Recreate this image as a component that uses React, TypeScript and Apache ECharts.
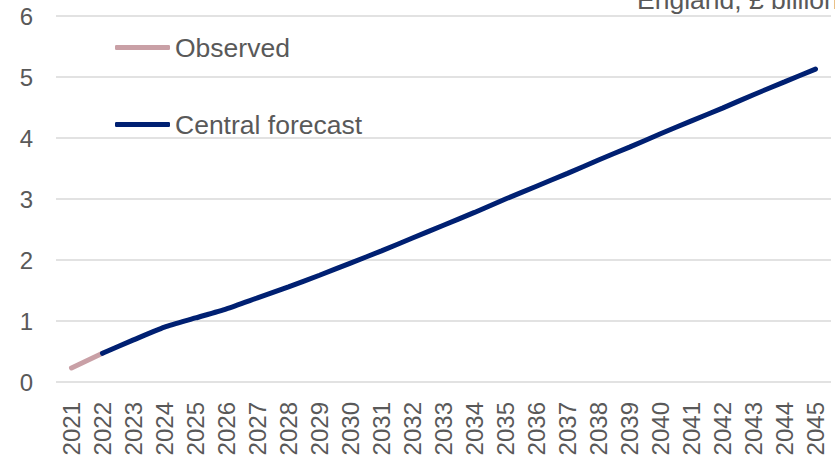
import React, { useEffect, useRef } from "react";
import * as echarts from "echarts";

const years = ["2021","2022","2023","2024","2025","2026","2027","2028","2029","2030","2031","2032","2033","2034","2035","2036","2037","2038","2039","2040","2041","2042","2043","2044","2045"];
const observed: (number | null)[] = [0.23, 0.47, null, null, null, null, null, null, null, null, null, null, null, null, null, null, null, null, null, null, null, null, null, null, null];
const centralForecast: (number | null)[] = [null, 0.47, 0.69, 0.9, 1.05, 1.2, 1.38, 1.56, 1.75, 1.95, 2.15, 2.36, 2.57, 2.78, 3.0, 3.21, 3.42, 3.64, 3.85, 4.07, 4.28, 4.49, 4.71, 4.92, 5.13];
const yTicks = { min: 0, max: 6, interval: 1 };
const unitLabel = "England, £ billion";

const FONT = "'Liberation Sans', Arial, sans-serif";
const GREY = "#595959";

export default function App() {
  const ref = useRef<HTMLDivElement>(null);
  useEffect(() => {
    if (!ref.current) return;
    const chart = echarts.init(ref.current, undefined, { renderer: "svg" });
    chart.setOption({
      animation: false,
      grid: { left: 56, right: 4, top: 16, bottom: 78, containLabel: false },
      legend: {
        orient: "vertical",
        left: 110,
        top: 29,
        padding: 5,
        itemWidth: 55,
        itemHeight: 5,
        itemGap: 50,
        icon: "roundRect",
        textStyle: { fontFamily: FONT, fontSize: 26.5, color: GREY, lineHeight: 27 },
        data: ["Observed", "Central forecast"],
      },
      graphic: [
        {
          type: "text",
          left: 637,
          top: -14,
          style: { text: unitLabel, fontFamily: FONT, fontSize: 26.5, fill: GREY },
        },
      ],
      xAxis: {
        type: "category",
        data: years,
        boundaryGap: true,
        axisLine: { show: false },
        axisTick: { show: false },
        axisLabel: { rotate: 90, interval: 0, fontFamily: FONT, fontSize: 24, color: GREY, margin: 20 },
      },
      yAxis: {
        type: "value",
        min: yTicks.min,
        max: yTicks.max,
        interval: yTicks.interval,
        axisLine: { show: false },
        axisTick: { show: false },
        axisLabel: { fontFamily: FONT, fontSize: 24, color: GREY, margin: 23 },
        splitLine: { lineStyle: { color: "#D9D9D9", width: 1.5 } },
      },
      series: [
        {
          name: "Observed",
          type: "line",
          data: observed,
          symbol: "none",
          smooth: 0.2,
          color: "#C9A0A6",
          lineStyle: { width: 5, color: "#C9A0A6", cap: "round" },
        },
        {
          name: "Central forecast",
          type: "line",
          data: centralForecast,
          symbol: "none",
          smooth: 0.2,
          color: "#002072",
          lineStyle: { width: 5, color: "#002072", cap: "round" },
        },
      ],
    });
    return () => chart.dispose();
  }, []);
  return <div ref={ref} style={{ width: 835, height: 460, position: "absolute", left: 0, top: 0 }} />;
}
